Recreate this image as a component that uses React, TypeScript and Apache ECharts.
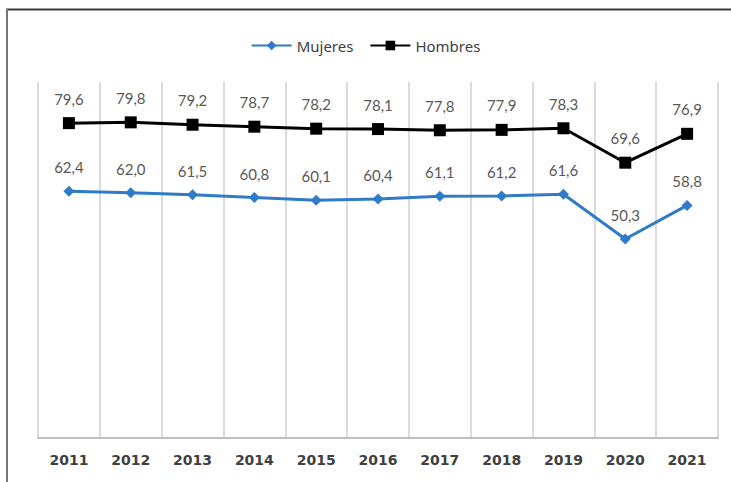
import React, { useEffect, useRef } from "react";
import * as echarts from "echarts";

const years = ["2011", "2012", "2013", "2014", "2015", "2016", "2017", "2018", "2019", "2020", "2021"];
const mujeres = [62.4, 62.0, 61.5, 60.8, 60.1, 60.4, 61.1, 61.2, 61.6, 50.3, 58.8];
const hombres = [79.6, 79.8, 79.2, 78.7, 78.2, 78.1, 77.8, 77.9, 78.3, 69.6, 76.9];

const fmt = (p: any) => Number(p.value).toFixed(1).replace(".", ",");

export default function App() {
  const ref = useRef<HTMLDivElement>(null);
  useEffect(() => {
    if (!ref.current) return;
    const chart = echarts.init(ref.current, undefined, { renderer: "svg" });
    const labelStyle = {
      show: true,
      position: "top" as const,
      distance: 11,
      formatter: fmt,
      color: "#595959",
      fontSize: 15,
      fontFamily: "Lato",
    };
    chart.setOption({
      animation: false,
      backgroundColor: "#ffffff",
      legend: {
        top: 33,
        left: "center",
        itemWidth: 40,
        itemHeight: 12,
        itemGap: 16,
        textStyle: { color: "#404040", fontSize: 15, fontFamily: "Noto Sans" },
        data: ["Mujeres", "Hombres"],
      },
      grid: { left: 38, right: 13, top: 82, bottom: 44 },
      xAxis: {
        type: "category",
        data: years,
        boundaryGap: true,
        axisLine: { show: true, lineStyle: { color: "#bfbfbf", width: 2 } },
        axisTick: { show: false },
        splitLine: { show: true, lineStyle: { color: "#cfcfcf", width: 1.5 } },
        axisLabel: {
          color: "#404040",
          fontSize: 14,
          fontWeight: "bold",
          fontFamily: "DejaVu Sans",
          margin: 15,
        },
      },
      yAxis: {
        type: "value",
        min: 0,
        max: 90,
        show: false,
        splitLine: { show: false },
      },
      graphic: [
        { type: "line", shape: { x1: 6, y1: 9.5, x2: 731, y2: 9.5 }, style: { stroke: "#3a3a3a", lineWidth: 2 } },
        { type: "line", shape: { x1: 7, y1: 9, x2: 7, y2: 482 }, style: { stroke: "#777777", lineWidth: 2 } },
      ],
      series: [
        {
          name: "Mujeres",
          type: "line",
          data: mujeres,
          symbol: "diamond",
          symbolSize: 11,
          lineStyle: { color: "#2f7bc7", width: 3 },
          itemStyle: { color: "#2f7bc7" },
          label: labelStyle,
        },
        {
          name: "Hombres",
          type: "line",
          data: hombres,
          symbol: "rect",
          symbolSize: 12,
          lineStyle: { color: "#000000", width: 3 },
          itemStyle: { color: "#000000" },
          label: labelStyle,
        },
      ],
    });
    return () => chart.dispose();
  }, []);
  return (
    <div
      ref={ref}
      style={{ position: "absolute", left: 0, top: 0, width: 731, height: 482 }}
    />
  );
}
